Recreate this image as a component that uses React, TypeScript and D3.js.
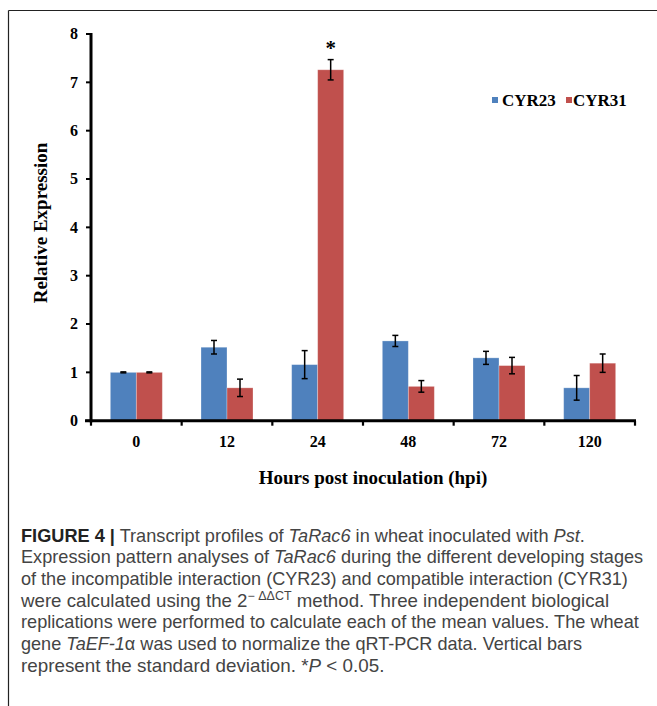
import React, { useLayoutEffect, useRef, useState } from "react";
import * as d3 from "d3";

const categories = ["0", "12", "24", "48", "72", "120"];
const seriesNames = ["CYR23", "CYR31"];
const cyr23 = [1.0, 1.52, 1.16, 1.65, 1.3, 0.68];
const cyr23Sd = [0.01, 0.14, 0.29, 0.115, 0.135, 0.255];
const cyr31 = [1.0, 0.68, 7.26, 0.71, 1.14, 1.19];
const cyr31Sd = [0.01, 0.18, 0.21, 0.12, 0.17, 0.19];
const yTicks = [0, 1, 2, 3, 4, 5, 6, 7, 8];
const significant = [false, false, true, false, false, false];

const colors = ["#4F81BD", "#C0504D"];
const serif = "'Liberation Serif', 'Times New Roman', serif";
const sans = "'Liberation Sans', Arial, Helvetica, sans-serif";

// caption line right edges
const captionEnds: number[] = [585, 643, 628, 610, 639, 582, 384];
const captionBaselines = [541.5, 563.2, 585, 606.7, 628.4, 650, 671.7];
const captionX = 21;

export default function App() {
  const W = 657;
  const H = 706;
  const x0 = 91, x1 = 635;
  const yBase = 420.7, yTop = 34;

  const x = d3.scaleBand<string>().domain(categories).range([x0, x1]).padding(0);
  const groupW = 52;
  const xs = d3.scaleBand<string>().domain(seriesNames).range([0, groupW]).padding(0);
  const y = d3.scaleLinear().domain([0, 8]).range([yBase, yTop]);

  const series = [
    { name: seriesNames[0], vals: cyr23, sd: cyr23Sd, color: colors[0] },
    { name: seriesNames[1], vals: cyr31, sd: cyr31Sd, color: colors[1] },
  ];

  const bw = x.bandwidth();
  const tickBoundaries = [...categories.map((c) => x(c) as number), x1];

  const lineRefs = useRef<(SVGTextElement | null)[]>([]);
  const [scales, setScales] = useState<number[]>(captionEnds.map(() => 1));

  useLayoutEffect(() => {
    const measure = () => {
      const widths = lineRefs.current.map((el) => (el ? el.getBBox().width : 0));
      setScales(
        captionEnds.map((end, i) => (widths[i] > 0 ? (end - captionX) / widths[i] : 1))
      );
    };
    measure();
    if ((document as any).fonts && (document as any).fonts.ready) {
      (document as any).fonts.ready.then(measure);
    }
  }, []);

  const captionLines: React.ReactNode[] = [
    <>
      <tspan fontWeight={700} fill="#222">FIGURE 4 |</tspan> Transcript profiles of{" "}
      <tspan fontStyle="italic">TaRac6</tspan> in wheat inoculated with{" "}
      <tspan fontStyle="italic">Pst</tspan>.
    </>,
    <>
      Expression pattern analyses of <tspan fontStyle="italic">TaRac6</tspan> during the
      different developing stages
    </>,
    <>of the incompatible interaction (CYR23) and compatible interaction (CYR31)</>,
    <>
      were calculated using the 2
      <tspan fontSize={12} dy={-7}>− ΔΔCT</tspan>
      <tspan dy={7}> method. Three independent biological</tspan>
    </>,
    <>replications were performed to calculate each of the mean values. The wheat</>,
    <>
      gene <tspan fontStyle="italic">TaEF-1</tspan>α was used to normalize the qRT-PCR data.
      Vertical bars
    </>,
    <>
      represent the standard deviation. *<tspan fontStyle="italic">P</tspan> {"<"} 0.05.
    </>,
  ];

  return (
    <svg
      width={W}
      height={H}
      style={{ position: "absolute", left: 0, top: 0, background: "#fff" }}
    >
      <rect x={0} y={0} width={W} height={H} fill="#fff" />
      {/* frame */}
      <line x1={8.5} y1={10.5} x2={W} y2={10.5} stroke="#222" strokeWidth={1.2} />
      <line x1={8.5} y1={10.5} x2={8.5} y2={H} stroke="#222" strokeWidth={1.2} />

      {/* bars */}
      {categories.map((c, i) => {
        const gx = (x(c) as number) + (bw - groupW) / 2;
        return (
          <g key={c}>
            {series.map((s) => {
              const bx = gx + (xs(s.name) as number);
              const v = s.vals[i];
              return (
                <rect
                  key={s.name}
                  x={bx}
                  y={y(v)}
                  width={xs.bandwidth()}
                  height={yBase - y(v)}
                  fill={s.color}
                  stroke="#ffffff"
                  strokeOpacity={0.35}
                  strokeWidth={0.8}
                />
              );
            })}
            {series.map((s) => {
              const cx = gx + (xs(s.name) as number) + xs.bandwidth() / 2;
              const v = s.vals[i];
              const sd = s.sd[i];
              const t = y(v + sd);
              const b = y(v - sd);
              return (
                <g key={s.name + "e"} stroke="#000" strokeWidth={1.5}>
                  <line x1={cx} x2={cx} y1={t} y2={b} />
                  <line x1={cx - 3} x2={cx + 3} y1={t} y2={t} />
                  <line x1={cx - 3} x2={cx + 3} y1={b} y2={b} />
                </g>
              );
            })}
            {significant[i] && (
              <text
                x={gx + (xs(seriesNames[1]) as number) + xs.bandwidth() / 2}
                y={y(cyr31[i] + cyr31Sd[i]) - 5}
                textAnchor="middle"
                fontFamily={serif}
                fontSize={21}
                fontWeight="bold"
              >
                *
              </text>
            )}
          </g>
        );
      })}

      {/* y axis */}
      <line x1={x0} x2={x0} y1={yTop - 1} y2={yBase + 1.5} stroke="#000" strokeWidth={3} />
      {yTicks.map((t) => (
        <g key={t}>
          <line x1={x0 - 5} x2={x0} y1={y(t)} y2={y(t)} stroke="#000" strokeWidth={2} />
          <text
            x={78}
            y={y(t)}
            dy="0.34em"
            textAnchor="end"
            fontFamily={serif}
            fontWeight="bold"
            fontSize={16}
          >
            {t}
          </text>
        </g>
      ))}

      {/* x axis */}
      <line x1={x0 - 6} x2={x1 + 1} y1={yBase} y2={yBase} stroke="#000" strokeWidth={3} />
      {tickBoundaries.map((tx, i) => (
        <line key={i} x1={tx} x2={tx} y1={yBase} y2={yBase + 5} stroke="#000" strokeWidth={2.2} />
      ))}
      {categories.map((c) => (
        <text
          key={c}
          x={(x(c) as number) + bw / 2}
          y={447}
          textAnchor="middle"
          fontFamily={serif}
          fontWeight="bold"
          fontSize={16}
        >
          {c}
        </text>
      ))}

      {/* axis titles */}
      <text
        x={373}
        y={484}
        textAnchor="middle"
        fontFamily={serif}
        fontWeight="bold"
        fontSize={19}
      >
        Hours post inoculation (hpi)
      </text>
      <text
        transform="translate(47,223) rotate(-90)"
        textAnchor="middle"
        fontFamily={serif}
        fontWeight="bold"
        fontSize={19}
      >
        Relative Expression
      </text>

      {/* legend */}
      <rect x={492} y={97} width={6} height={6} fill={colors[0]} />
      <text x={502} y={105.7} fontFamily={serif} fontWeight="bold" fontSize={17}>
        {seriesNames[0]}
      </text>
      <rect x={566} y={97} width={6} height={6} fill={colors[1]} />
      <text x={573} y={105.7} fontFamily={serif} fontWeight="bold" fontSize={17}>
        {seriesNames[1]}
      </text>

      {/* caption */}
      <g fontFamily={sans} fontSize={18} fill="#444">
        {captionLines.map((content, i) => (
          <g
            key={i}
            transform={`translate(${captionX},${captionBaselines[i]}) scale(${scales[i]},1)`}
          >
            <text
              ref={(el) => {
                lineRefs.current[i] = el;
              }}
              x={0}
              y={0}
            >
              {content}
            </text>
          </g>
        ))}
      </g>
    </svg>
  );
}
